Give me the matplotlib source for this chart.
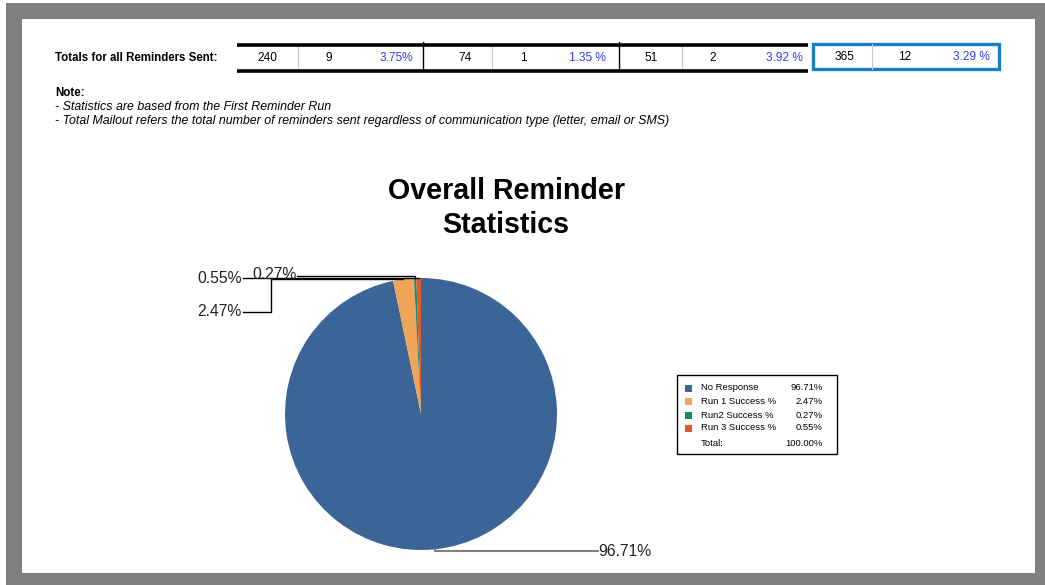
import numpy as np
import matplotlib
matplotlib.use('Agg')
import matplotlib.pyplot as plt
from matplotlib.patches import Rectangle

plt.rcParams['font.family'] = ['Liberation Sans', 'DejaVu Sans']

# table data (per reminder run, then overall)
run_mailout = [240, 74, 51]
run_success = [9, 1, 2]
total_mailout = 365
total_success = 12

# pie data
pie_labels = ['No Response', 'Run 1 Success %', 'Run2 Success %', 'Run 3 Success %']
pie_counts = [353, 9, 1, 2]
pie_colors = ['#3b6596', '#f0a457', '#0a8d6c', '#e05a26']

W, H = 1045, 585
fig = plt.figure(figsize=(W / 100, H / 100), dpi=100)

# background axes in pixel units (y down)
bg = fig.add_axes([0, 0, 1, 1])
bg.set_xlim(0, W)
bg.set_ylim(H, 0)
bg.axis('off')

bg.add_patch(Rectangle((6, 3), W - 6, H - 3, color='#808080', lw=0))
bg.add_patch(Rectangle((22, 19), 1035 - 22, 573 - 19, color='white', lw=0))

# ---- totals table ----
row_y = 58
bg.text(55, row_y, 'Totals for all Reminders Sent:', fontsize=8.3, fontweight='bold',
        va='center', ha='left')

blue_txt = '#3a3af0'
light = '#c8c8c8'
tfs = 8.6
# x layout per group: left, first col center, separator, second col center, pct right, right
groups = [
    (237, 267, 298, 329, 413, 423),
    (423, 465, 492, 523, 606, 619),
    (619, 651, 682, 713, 803, 808),
]
for i, (x0, c1, sep, c2, pr, x1) in enumerate(groups):
    rate = run_success[i] / run_mailout[i] * 100
    pct = f'{rate:.2f}%' if i == 0 else f'{rate:.2f} %'
    bg.text(c1, row_y, str(run_mailout[i]), fontsize=tfs, ha='center', va='center')
    bg.text(c2, row_y, str(run_success[i]), fontsize=tfs, ha='center', va='center')
    bg.text(pr, row_y, pct, fontsize=tfs, ha='right', va='center', color=blue_txt)
    bg.plot([sep, sep], [45, 71], color=light, lw=0.8)

bg.plot([237, 808], [45, 45], color='black', lw=2.6, solid_capstyle='butt')
bg.plot([237, 808], [71, 71], color='black', lw=2.6, solid_capstyle='butt')
for xv in (423, 619):
    bg.plot([xv, xv], [42, 71], color='black', lw=1)

# overall box
bx0, bx1 = 813, 999
bg.add_patch(Rectangle((bx0, 44), bx1 - bx0, 24.5, fill=False, ec='#1580c4', lw=2.4))
bg.plot([872, 872], [44, 68.5], color=light, lw=0.8)
tot_rate = total_success / total_mailout * 100
bg.text(845, row_y - 1, str(total_mailout), fontsize=tfs, ha='center', va='center')
bg.text(905, row_y - 1, str(total_success), fontsize=tfs, ha='center', va='center')
bg.text(990, row_y - 1, f'{tot_rate:.2f} %', fontsize=tfs, ha='right', va='center', color=blue_txt)

# ---- notes ----
nfs = 8.9
bg.text(55, 93, 'Note:', fontsize=8.3, fontweight='bold', va='center')
bg.text(55, 107, '- Statistics are based from the First Reminder Run',
        fontsize=nfs, style='italic', va='center')
bg.text(55, 121, '- Total Mailout refers the total number of reminders sent regardless '
        'of communication type (letter, email or SMS)',
        fontsize=nfs, style='italic', va='center')

# ---- title ----
bg.text(506, 191, 'Overall Reminder', fontsize=20.6, fontweight='bold', ha='center', va='center')
bg.text(506, 225, 'Statistics', fontsize=20.6, fontweight='bold', ha='center', va='center')

# ---- pie ----
cx, cy, r = 421, 414, 136
px0, px1, py0, py1 = 150, 700, 255, 575
pax = fig.add_axes([px0 / W, (H - py1) / H, (px1 - px0) / W, (py1 - py0) / H])
wedges, _ = pax.pie(pie_counts, colors=pie_colors, startangle=90, counterclock=False,
                    radius=1, wedgeprops=dict(linewidth=0))
pax.set_xlim((px0 - cx) / r, (px1 - cx) / r)
pax.set_ylim((cy - py1) / r, (cy - py0) / r)
pax.set_aspect('auto')
pax.axis('off')


def d(px, py):
    return (px - cx) / r, (cy - py) / r


total = sum(pie_counts)
pcts = [c / total * 100 for c in pie_counts]
anchors = []
for w in wedges:
    mid = np.deg2rad((w.theta1 + w.theta2) / 2)
    anchors.append((np.cos(mid), np.sin(mid)))

lab_kw = dict(fontsize=11.3, color='#222222', va='center')

# No Response
ax_, ay_ = anchors[0]
tx, ty = d(598, 551)
pax.plot([ax_, ax_, tx], [ay_, ty, ty], color='#7f7f7f', lw=1.5, clip_on=False)
pax.text(tx, ty, f'{pcts[0]:.2f}%', ha='left', **lab_kw)

# Run 1
ax_, ay_ = anchors[1]
tx, ty = d(243, 312)
ex, _ = d(271, 312)
pax.plot([tx, ex, ex, ax_], [ty, ty, ay_, ay_], color='black', lw=1, clip_on=False)
pax.text(tx - 0.01, ty, f'{pcts[1]:.2f}%', ha='right', **lab_kw)

# Run 2
ax_, ay_ = anchors[2]
tx, ty = d(297, 276)
pax.plot([tx, ax_, ax_], [ty, ty, ay_], color='black', lw=1, clip_on=False)
pax.text(tx, ty + 0.01, f'{pcts[2]:.2f}%', ha='right', **lab_kw)

# Run 3
ax_, ay_ = anchors[3]
tx, _ = d(243, 279)
pax.plot([tx, ax_], [ay_, ay_], color='black', lw=1, clip_on=False)
pax.text(tx - 0.01, ay_, f'{pcts[3]:.2f}%', ha='right', **lab_kw)

# ---- legend ----
bg.add_patch(Rectangle((677, 375), 160, 79, fill=False, ec='black', lw=1))
row_ys = [388, 401, 415, 428]
for i, lab in enumerate(pie_labels):
    yy = row_ys[i]
    bg.add_patch(Rectangle((685, yy - 3.5), 7, 7, color=pie_colors[i], lw=0))
    bg.text(701, yy, lab, fontsize=6.8, va='center', ha='left')
    bg.text(823, yy, f'{pcts[i]:.2f}%', fontsize=6.8, va='center', ha='right')
bg.text(701, 443, 'Total:', fontsize=6.8, va='center', ha='left')
bg.text(823, 443, f'{sum(pcts):.2f}%', fontsize=6.8, va='center', ha='right')

fig.savefig('out.png', dpi=100)
